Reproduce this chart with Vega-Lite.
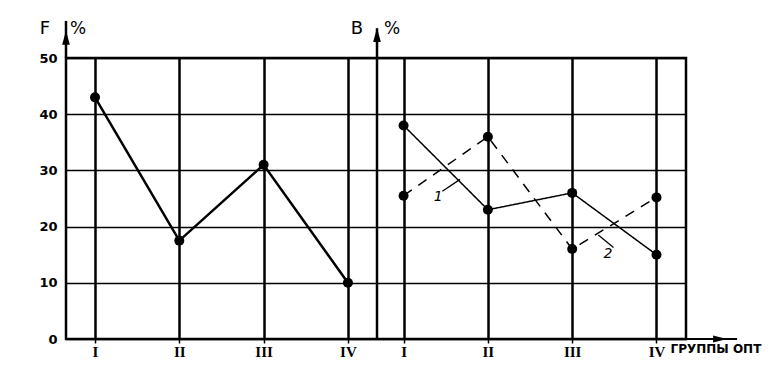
{
  "$schema": "https://vega.github.io/schema/vega-lite/v6.json",
  "autosize": {"type": "none"},
  "padding": {"left": 66, "top": 58, "right": 85, "bottom": 37},
  "width": 620,
  "height": 281,
  "background": "white",
  "config": {"view": {"stroke": "black", "strokeWidth": 2.5}},
  "datasets": {
    "f": [
      {"group": "I", "pos": 1, "value": 43},
      {"group": "II", "pos": 2, "value": 17.5},
      {"group": "III", "pos": 3, "value": 31},
      {"group": "IV", "pos": 4, "value": 10}
    ],
    "b": [
      {"series": "1", "group": "I", "pos": 4.66, "value": 38},
      {"series": "1", "group": "II", "pos": 5.66, "value": 23},
      {"series": "1", "group": "III", "pos": 6.66, "value": 26},
      {"series": "1", "group": "IV", "pos": 7.66, "value": 15},
      {"series": "2", "group": "I", "pos": 4.66, "value": 25.5},
      {"series": "2", "group": "II", "pos": 5.66, "value": 36},
      {"series": "2", "group": "III", "pos": 6.66, "value": 16},
      {"series": "2", "group": "IV", "pos": 7.66, "value": 25.2}
    ],
    "one": [{}]
  },
  "layer": [
    {
      "data": {"name": "f"},
      "mark": {"type": "line", "color": "black", "strokeWidth": 2.5},
      "encoding": {
        "x": {
          "field": "pos", "type": "quantitative",
          "scale": {"domain": [0.656, 8.01], "nice": false, "zero": false},
          "axis": {
            "values": [1, 2, 3, 4, 4.66, 5.66, 6.66, 7.66],
            "labelExpr": "datum.value < 4.5 ? ['I','II','III','IV'][round(datum.value)-1] : ['I','II','III','IV'][round(datum.value-3.66)-1]",
            "grid": true, "gridColor": "black", "gridWidth": 2.5, "gridOpacity": 1,
            "domain": false, "ticks": true, "tickColor": "black", "tickSize": 4, "tickWidth": 1.5,
            "labelFont": "Liberation Serif", "labelFontWeight": "bold", "labelFontSize": 15,
            "labelColor": "black", "labelPadding": 1, "labelOverlap": false, "labelFlush": false, "labelBound": false,
            "title": "ГРУППЫ ОПТ", "titleFont": "DejaVu Sans", "titleFontWeight": "bold", "titleFontSize": 12,
            "titleColor": "black", "titleX": 604, "titleY": 9, "titleAlign": "left", "titleBaseline": "middle", "titleAnchor": "start"
          }
        },
        "y": {
          "field": "value", "type": "quantitative",
          "scale": {"domain": [0, 50], "nice": false},
          "axis": {
            "values": [0, 10, 20, 30, 40, 50],
            "grid": true, "gridColor": "black", "gridWidth": 1.6, "gridOpacity": 1,
            "domain": false, "ticks": false, "labelPadding": 9,
            "labelFont": "DejaVu Sans", "labelFontWeight": "bold", "labelFontSize": 13, "labelColor": "black",
            "labelFlush": false, "labelOverlap": false, "title": null
          }
        }
      }
    },
    {
      "data": {"name": "f"},
      "mark": {"type": "point", "filled": true, "color": "black", "opacity": 1, "size": 100},
      "encoding": {
        "x": {"field": "pos", "type": "quantitative"},
        "y": {"field": "value", "type": "quantitative"}
      }
    },
    {
      "data": {"name": "b"},
      "mark": {"type": "line", "color": "black", "strokeWidth": 1.5},
      "encoding": {
        "x": {"field": "pos", "type": "quantitative"},
        "y": {"field": "value", "type": "quantitative"},
        "detail": {"field": "series"},
        "strokeDash": {"field": "series", "type": "nominal", "scale": {"domain": ["1", "2"], "range": [[1, 0], [10, 8]]}, "legend": null}
      }
    },
    {
      "data": {"name": "b"},
      "mark": {"type": "point", "filled": true, "color": "black", "opacity": 1, "size": 100},
      "encoding": {
        "x": {"field": "pos", "type": "quantitative"},
        "y": {"field": "value", "type": "quantitative"}
      }
    },
    {
      "data": {"name": "one"},
      "mark": {"type": "rule", "color": "black", "strokeWidth": 2.5},
      "encoding": {"x": {"datum": 4.345}, "y": {"datum": 0}, "y2": {"datum": 55.3}}
    },
    {
      "data": {"name": "one"},
      "mark": {"type": "rule", "color": "black", "strokeWidth": 2.5},
      "encoding": {"x": {"datum": 0.656}, "y": {"datum": 50}, "y2": {"datum": 56.6}}
    },
    {
      "data": {"name": "one"},
      "mark": {"type": "rule", "color": "black", "strokeWidth": 2},
      "encoding": {"y": {"datum": 0}, "x": {"datum": 8.01}, "x2": {"datum": 8.616}}
    },
    {
      "data": {"name": "one"},
      "mark": {"type": "point", "filled": true, "color": "black", "opacity": 1, "size": 196, "shape": "M0,-1L0.55,1L-0.55,1Z"},
      "encoding": {"x": {"datum": 0.656}, "y": {"datum": 53.6}}
    },
    {
      "data": {"name": "one"},
      "mark": {"type": "point", "filled": true, "color": "black", "opacity": 1, "size": 196, "shape": "M0,-1L0.55,1L-0.55,1Z"},
      "encoding": {"x": {"datum": 4.345}, "y": {"datum": 54.1}}
    },
    {
      "data": {"name": "one"},
      "mark": {"type": "point", "filled": true, "color": "black", "opacity": 1, "size": 196, "shape": "M1,0L-1,-0.5L-1,0.5Z"},
      "encoding": {"x": {"datum": 8.414}, "y": {"datum": 0}}
    },
    {
      "data": {"name": "one"},
      "mark": {"type": "text", "text": "F", "font": "DejaVu Sans", "fontSize": 18, "color": "black"},
      "encoding": {"x": {"datum": 0.407}, "y": {"datum": 55.2}}
    },
    {
      "data": {"name": "one"},
      "mark": {"type": "text", "text": "%", "font": "DejaVu Sans", "fontSize": 17, "color": "black"},
      "encoding": {"x": {"datum": 0.8}, "y": {"datum": 55.1}}
    },
    {
      "data": {"name": "one"},
      "mark": {"type": "text", "text": "В", "font": "DejaVu Sans", "fontSize": 18, "color": "black"},
      "encoding": {"x": {"datum": 4.108}, "y": {"datum": 55.2}}
    },
    {
      "data": {"name": "one"},
      "mark": {"type": "text", "text": "%", "font": "DejaVu Sans", "fontSize": 17, "color": "black"},
      "encoding": {"x": {"datum": 4.523}, "y": {"datum": 55.1}}
    },
    {
      "data": {"name": "one"},
      "mark": {"type": "text", "text": "1", "font": "DejaVu Sans", "fontStyle": "italic", "fontSize": 14, "color": "black"},
      "encoding": {"x": {"datum": 5.07}, "y": {"datum": 25.3}}
    },
    {
      "data": {"name": "one"},
      "mark": {"type": "text", "text": "2", "font": "DejaVu Sans", "fontStyle": "italic", "fontSize": 14, "color": "black"},
      "encoding": {"x": {"datum": 7.085}, "y": {"datum": 15.1}}
    },
    {
      "data": {"name": "one"},
      "mark": {"type": "rule", "color": "black", "strokeWidth": 1.3},
      "encoding": {"x": {"datum": 5.12}, "y": {"datum": 26.3}, "x2": {"datum": 5.33}, "y2": {"datum": 28.4}}
    },
    {
      "data": {"name": "one"},
      "mark": {"type": "rule", "color": "black", "strokeWidth": 1.3},
      "encoding": {"x": {"datum": 6.97}, "y": {"datum": 18.5}, "x2": {"datum": 7.15}, "y2": {"datum": 16.3}}
    }
  ]
}
